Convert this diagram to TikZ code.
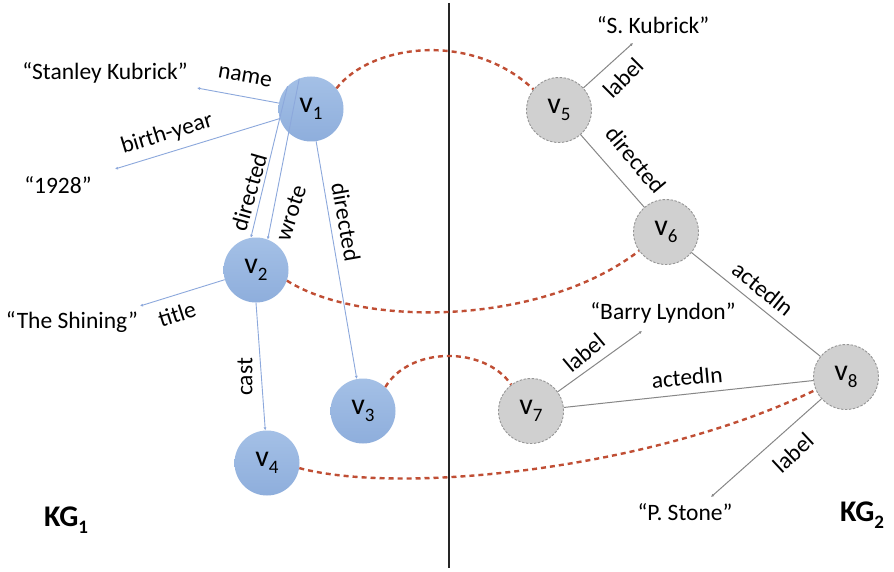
\documentclass[tikz,border=0pt]{standalone}
\usepackage{fontspec}
\setmainfont{Carlito}
\usetikzlibrary{arrows.meta}
\definecolor{blueTop}{RGB}{164,192,230}
\definecolor{blueBot}{RGB}{142,174,220}
\definecolor{blueline}{RGB}{140,168,220}
\definecolor{grayfill}{RGB}{208,208,208}
\definecolor{graybord}{RGB}{150,150,150}
\definecolor{grayline}{RGB}{135,135,135}
\definecolor{matchred}{RGB}{192,78,52}
\newcommand\vsub[1]{{\fontsize{30}{30}\selectfont v}\raisebox{-7pt}{\fontsize{19}{19}\selectfont #1}}
\newcommand\kgsub[1]{{\fontsize{30}{30}\selectfont\bfseries KG}\raisebox{-7pt}{\fontsize{19}{19}\selectfont\bfseries #1}}
\begin{document}
\begin{tikzpicture}[x=1pt,y=-1pt,
  bnode/.style={circle, minimum size=65pt, inner sep=0pt, top color=blueTop, bottom color=blueBot, draw=none},
  gnode/.style={circle, minimum size=65pt, inner sep=0pt, fill=grayfill, draw=graybord, dash pattern=on 2.5pt off 1.5pt, line width=0.9pt},
  txt/.style={font=\fontsize{23.5}{27}\selectfont, inner sep=0pt},
  bedge/.style={draw=blueline, line width=0.9pt, -{Latex[length=3pt,width=3pt]}},
  gedge/.style={draw=grayline, line width=1pt},
  gtip/.style={-{Latex[length=3pt,width=3pt]}},
  match/.style={draw=matchred, line width=2.4pt, dash pattern=on 5pt off 4pt},
  kg/.style={inner sep=0pt}]
\useasboundingbox (0,0) rectangle (894,572);
\fill[white] (0,0) rectangle (894,572);

% divider
\coordinate (divtop) at (449,3);
\coordinate (divbot) at (449,568);
\draw[line width=1.4pt, black!85] (divtop) -- (divbot);

% KG1 nodes
\node[bnode] (v1) at (311,109) {\vsub{1}};
\node[bnode] (v2) at (256,270) {\vsub{2}};
\node[bnode] (v3) at (363,411) {\vsub{3}};
\node[bnode] (v4) at (267,463) {\vsub{4}};

% KG2 nodes
\node[gnode] (v5) at (559,110) {\vsub{5}};
\node[gnode] (v6) at (666,232) {\vsub{6}};
\node[gnode] (v7) at (531,411) {\vsub{7}};
\node[gnode] (v8) at (846,377) {\vsub{8}};

% literals
\node[txt] (sk) at (105,73) {“Stanley Kubrick”};
\node[txt] (yr) at (58,185) {“1928”};
\node[txt] (ts) at (72,322) {“The Shining”};
\node[txt] (skr) at (653,25) {“S. Kubrick”};
\node[txt] (bl) at (663,313) {“Barry Lyndon”};
\node[txt] (ps) at (685,512) {“P. Stone”};

\coordinate (skend) at (197,88);
\coordinate (yrend) at (115,169);
\coordinate (tsend) at (140,306);
\coordinate (skrend) at (633,43);
\coordinate (blend) at (642,331);
\coordinate (psend) at (711,497);

% KG1 edges
\draw[bedge] (v1) -- (skend);
\draw[bedge] (v1) -- (yrend);
\draw[bedge] (v1.136) -- (v2.99);
\draw[bedge] (v1.111) -- (v2.69);
\draw[bedge] (v1.-81) -- (v3.101);
\draw[bedge] (v2) -- (tsend);
\draw[bedge] (v2.-90) -- (v4.93);

% KG2 edges
\draw[gedge,gtip] (v5) -- (skrend);
\draw[gedge] (v5) -- (v6);
\draw[gedge] (v8) -- (v6);
\draw[gedge,gtip] (v7) -- (blend);
\draw[gedge] (v8) -- (v7);
\draw[gedge,gtip] (v8) -- (psend);

% edge labels
\node[txt, rotate=-10] (lname) at (245,77) {name};
\node[txt, rotate=17] (lby) at (167,134) {birth-year};
\node[txt, rotate=74] (ldir1) at (249,192) {directed};
\node[txt, rotate=72] (lwr) at (291,213) {wrote};
\node[txt, rotate=-80] (ldir2) at (346,222) {directed};
\node[txt, rotate=18] (ltitle) at (177,314) {title};
\node[txt, rotate=90] (lcast) at (245,377) {cast};
\node[txt, rotate=45] (llab5) at (623,78) {label};
\node[txt, rotate=-50] (ldir5) at (636,160) {directed};
\node[txt, rotate=-39] (lact6) at (763,289) {actedIn};
\node[txt, rotate=40] (llab7) at (584,353) {label};
\node[txt, rotate=5] (lact7) at (687,377) {actedIn};
\node[txt, rotate=43] (llab8) at (793,453) {label};

% KG labels
\node[kg] (kg1) at (66,520) {\kgsub{1}};
\node[kg] (kg2) at (862,515) {\kgsub{2}};

% matches
\draw[match] (v1.39) .. controls (370,45) and (470,30) .. (v5.141);
\draw[match] (v2.-19) .. controls (360,327) and (540,327) .. (v6.215);
\draw[match] (v3.47) .. controls (410,346) and (485,346) .. (v7.127);
\draw[match] (v4.-9) .. controls (400,495) and (650,470) .. (v8.203);
\end{tikzpicture}
\end{document}
